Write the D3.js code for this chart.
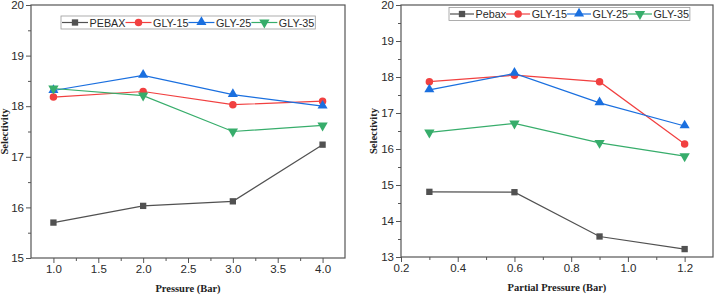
<!DOCTYPE html>
<html>
<head>
<meta charset="utf-8">
<script src="https://cdn.jsdelivr.net/npm/d3@7"></script>
<style>
  body { margin: 0; background: #fff; }
  svg { display: block; }
  .tick text { font-family: "Liberation Sans", Arial, sans-serif; font-size: 11.5px; fill: #2a2a2a; }
  .title { font-family: "Liberation Serif", "Times New Roman", serif; font-weight: bold; font-size: 10.5px; fill: #222; }
  .legend text { font-family: "Liberation Sans", Arial, sans-serif; font-size: 10.8px; fill: #2a2a2a; }
</style>
</head>
<body>
<svg id="chart" width="714" height="295"></svg>
<script>
// left panel: selectivity vs feed pressure
const pressure = [1.0, 2.0, 3.0, 4.0];
const leftNames = ["PEBAX", "GLY-15", "GLY-25", "GLY-35"];
const leftPebax = [15.70, 16.03, 16.12, 17.24];
const leftGly15 = [18.18, 18.29, 18.03, 18.10];
const leftGly25 = [18.31, 18.61, 18.23, 18.00];
const leftGly35 = [18.35, 18.21, 17.50, 17.62];
const leftXTicks = [1.0, 1.5, 2.0, 2.5, 3.0, 3.5, 4.0];
const leftYTicks = [15, 16, 17, 18, 19, 20];

// right panel: selectivity vs partial pressure
const partial = [0.3, 0.6, 0.9, 1.2];
const rightNames = ["Pebax", "GLY-15", "GLY-25", "GLY-35"];
const rightPebax = [14.81, 14.80, 13.57, 13.22];
const rightGly15 = [17.87, 18.05, 17.87, 16.14];
const rightGly25 = [17.64, 18.10, 17.28, 16.64];
const rightGly35 = [16.46, 16.71, 16.17, 15.80];
const rightXTicks = [0.2, 0.4, 0.6, 0.8, 1.0, 1.2];
const rightYTicks = [13, 14, 15, 16, 17, 18, 19, 20];

const colours = ["#515151", "#F14040", "#1A6FDF", "#37AD6B"];
const shapes = [d3.symbolSquare, d3.symbolCircle, d3.symbolTriangle, "down"];

const svg = d3.select("#chart");

function marker(g, i, x, y) {
  if (shapes[i] === "down") {
    g.append("path")
      .attr("d", d3.symbol(d3.symbolTriangle, 46)())
      .attr("transform", "translate(" + x + "," + y + ") rotate(180)")
      .attr("fill", colours[i]);
  } else {
    let size = i === 0 ? 40 : 44;
    g.append("path")
      .attr("d", d3.symbol(shapes[i], size)())
      .attr("transform", "translate(" + x + "," + (i === 2 ? y - 0.5 : y) + ")")
      .attr("fill", colours[i]);
  }
}

function drawPanel(opt) {
  let g = svg.append("g");
  let x = d3.scaleLinear().domain(opt.xDomain).range([opt.left, opt.right]);
  let y = d3.scaleLinear().domain(opt.yDomain).range([opt.bottom, opt.top]);

  // minor ticks
  g.append("g")
    .attr("transform", "translate(0," + opt.bottom + ")")
    .call(d3.axisBottom(x).tickValues(opt.xMinor).tickSize(3).tickFormat(""))
    .call(a => a.select(".domain").remove())
    .selectAll("line").attr("stroke", "#555");
  g.append("g")
    .attr("transform", "translate(" + opt.left + ",0)")
    .call(d3.axisLeft(y).tickValues(opt.yMinor).tickSize(3).tickFormat(""))
    .call(a => a.select(".domain").remove())
    .selectAll("line").attr("stroke", "#555");

  // major ticks
  let xa = g.append("g")
    .attr("transform", "translate(0," + opt.bottom + ")")
    .call(d3.axisBottom(x).tickValues(opt.xTicks).tickSize(5).tickPadding(2).tickFormat(d3.format(".1f")));
  xa.select(".domain").remove();
  xa.selectAll("line").attr("stroke", "#555");

  let ya = g.append("g")
    .attr("transform", "translate(" + opt.left + ",0)")
    .call(d3.axisLeft(y).tickValues(opt.yTicks).tickSize(5).tickPadding(2).tickFormat(d3.format("d")));
  ya.select(".domain").remove();
  ya.selectAll("line").attr("stroke", "#555");

  // frame
  g.append("rect")
    .attr("x", opt.left).attr("y", opt.top)
    .attr("width", opt.right - opt.left).attr("height", opt.bottom - opt.top)
    .attr("fill", "none").attr("stroke", "#555").attr("stroke-width", 1.2);

  // series
  let line = d3.line().x((d, i) => x(opt.xs[i])).y(d => y(d));
  opt.series.forEach(function(s, i) {
    g.append("path")
      .datum(s)
      .attr("d", line)
      .attr("fill", "none")
      .attr("stroke", colours[i])
      .attr("stroke-width", 1.2);
  });
  opt.series.forEach(function(s, i) {
    s.forEach(function(v, j) { marker(g, i, x(opt.xs[j]), y(v)); });
  });

  // axis titles
  g.append("text")
    .attr("class", "title")
    .attr("x", (opt.left + opt.right) / 2)
    .attr("y", opt.bottom + 34)
    .attr("text-anchor", "middle")
    .text(opt.xTitle);
  g.append("text")
    .attr("class", "title")
    .attr("transform", "translate(" + opt.yTitleX + "," + ((opt.top + opt.bottom) / 2) + ") rotate(-90)")
    .attr("text-anchor", "middle")
    .text("Selectivity");

  // legend
  let lg = g.append("g").attr("class", "legend");
  let box = lg.append("rect")
    .attr("fill", "#fff").attr("stroke", "#999").attr("stroke-width", 0.8);
  let cx = opt.legX + 1;
  let seg = opt.legSeg;
  opt.names.forEach(function(n, i) {
    lg.append("line")
      .attr("x1", cx).attr("x2", cx + seg)
      .attr("y1", opt.legY).attr("y2", opt.legY)
      .attr("stroke", colours[i]).attr("stroke-width", 1.2);
    marker(lg, i, cx + seg / 2, opt.legY);
    let t = lg.append("text")
      .attr("x", cx + seg + 1.5).attr("y", opt.legY + 4)
      .text(n);
    cx += seg + 1.5 + t.node().getComputedTextLength();
  });
  box.attr("x", opt.legX).attr("y", opt.legY - 6.5)
    .attr("width", cx - opt.legX + 1).attr("height", 13);
}

drawPanel({
  left: 31, right: 345, top: 5, bottom: 258,
  xDomain: [0.75, 4.25], yDomain: [15, 20],
  xTicks: leftXTicks, yTicks: leftYTicks,
  xMinor: [1.25, 1.75, 2.25, 2.75, 3.25, 3.75],
  yMinor: [15.5, 16.5, 17.5, 18.5, 19.5],
  xs: pressure,
  series: [leftPebax, leftGly15, leftGly25, leftGly35],
  names: leftNames,
  xTitle: "Pressure (Bar)", yTitleX: 8,
  legX: 61, legY: 22.5, legSeg: 26
});

drawPanel({
  left: 401, right: 713, top: 5, bottom: 257,
  xDomain: [0.2, 1.3], yDomain: [13, 20],
  xTicks: rightXTicks, yTicks: rightYTicks,
  xMinor: [0.3, 0.5, 0.7, 0.9, 1.1],
  yMinor: [13.5, 14.5, 15.5, 16.5, 17.5, 18.5, 19.5],
  xs: partial,
  series: [rightPebax, rightGly15, rightGly25, rightGly35],
  names: rightNames,
  xTitle: "Partial Pressure (Bar)", yTitleX: 377,
  legX: 449, legY: 14, legSeg: 24
});
</script>
</body>
</html>
